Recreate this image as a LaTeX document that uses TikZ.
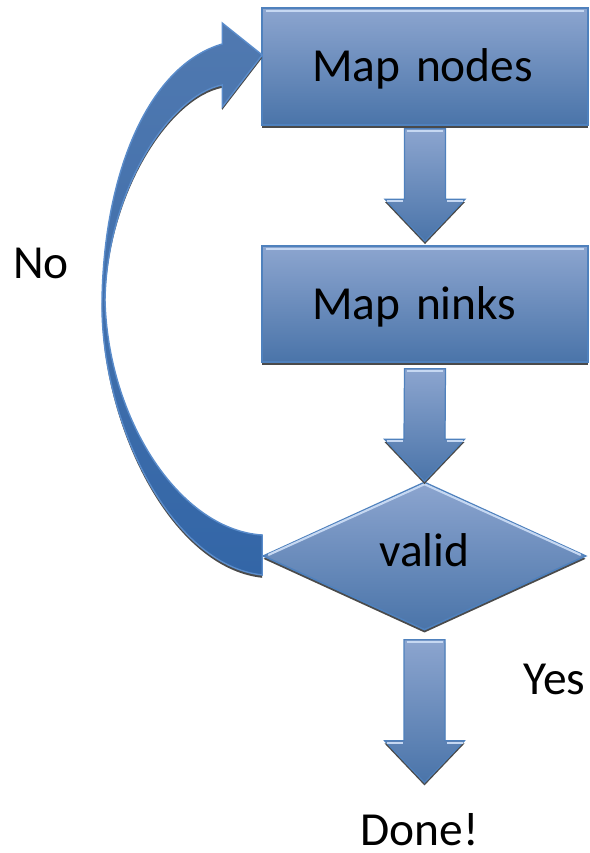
\documentclass[tikz,border=0pt]{standalone}
\usepackage{fontspec}
\setmainfont{Carlito}
\usetikzlibrary{shapes.geometric,shadows,calc}

\definecolor{boxtop}{HTML}{8CA5CF}
\definecolor{boxbot}{HTML}{4A74A9}
\definecolor{boxedge}{HTML}{4F81BD}
\definecolor{boxshine}{HTML}{C6D8F2}
\definecolor{looptop}{HTML}{5079B0}
\definecolor{loopbot}{HTML}{3366A7}
\definecolor{loopedge}{HTML}{5A8CCB}
\definecolor{shadowgray}{HTML}{4A4A4A}

\tikzset{
  solid shadow/.style={drop shadow={shadow xshift=0pt, shadow yshift=-1.6pt,
      fill=shadowgray, opacity=1}},
  bigtext/.style={font=\fontsize{27}{31}\selectfont},
  procbox/.style={rectangle, draw=boxedge, line width=0.9pt,
    top color=boxtop, bottom color=boxbot, solid shadow,
    minimum width=6.52cm, minimum height=2.34cm, inner sep=0pt, bigtext,
    text width=4.52cm, align=left, text height=17.6pt, text depth=0pt,
    path picture={\draw[boxshine, line width=1.2pt]
      ([shift={(2pt,-1.6pt)}]path picture bounding box.north west) --
      ([shift={(-2pt,-1.6pt)}]path picture bounding box.north east);}},
  decision/.style={diamond, draw=boxedge, line width=0.9pt,
    top color=boxtop, bottom color=boxbot, solid shadow,
    minimum width=6.46cm, minimum height=2.96cm, inner sep=0pt, bigtext,
    text height=12.5pt, text depth=0pt},
  label text/.style={bigtext, inner sep=0pt, anchor=base west},
  blockarrow/.style={draw=boxedge, line width=0.7pt, top color=boxtop,
    bottom color=boxbot, solid shadow},
  shine/.style={boxshine, line width=1.2pt},
  looparrow/.style={draw=loopedge, line width=0.8pt, top color=looptop,
    bottom color=loopbot, solid shadow},
}

% straight block arrow pointing down: #1 top of shaft, #2 tip
\newcommand\downblock[2]{%
  \path[blockarrow] ($(#1)+(-20.5,0)$) -- ($(#1)+(20.5,0)$)
    -- ($(#2)+(20.5,-42)$) -- ($(#2)+(40,-42)$) -- (#2)
    -- ($(#2)+(-40,-42)$) -- ($(#2)+(-20.5,-42)$) -- cycle;
  \draw[shine] ($(#1)+(-18,2.5)$) -- ($(#1)+(18,2.5)$);
  \draw[shine] ($(#2)+(-38,-40)$) -- ($(#2)+(-22,-40)$);
  \draw[shine] ($(#2)+(22,-40)$) -- ($(#2)+(38,-40)$);
}

\begin{document}
\begin{tikzpicture}[x=0.02cm, y=-0.02cm]
  \useasboundingbox (0,0) rectangle (590,853);

  % process steps
  \node[procbox] (map)  at (425,66.5) {Map nodes};
  \node[procbox, minimum height=2.32cm] (link) at (425,304) {Map ninks};
  \node[decision] (dec) at (424.5,556) {valid};
  \draw[shine] ($(dec.west)+(6,-1)$) -- ($(dec.north)+(0,3)$) -- ($(dec.east)+(-6,-1)$);

  % outcome labels
  \node[label text] (done) at (360,845) {Done!};
  \node[label text] (yes)  at (523,694) {Yes};
  \node[label text] (no)   at (13,278)  {No};

  % straight flow arrows
  \coordinate (a1s) at ($(map.south)+(0,3)$);
  \coordinate (a1e) at ($(link.north)+(0,-4)$);
  \coordinate (a2s) at ($(link.south)+(0,6)$);
  \coordinate (a2e) at (dec.north);
  \coordinate (a3s) at ($(dec.south)+(0,9)$);
  \coordinate (a3e) at ($(dec.south |- done.north)+(0,-30)$);
  \downblock{a1s}{a1e}
  \downblock{a2s}{a2e}
  \downblock{a3s}{a3e}

  % curved "No" arrow from the decision back to the first step
  \path[looparrow]
    ($(dec.west)+(0,19)$)
      .. controls (170,565) and (100,420) .. (102,300)
      .. controls (104,170) and (150,65) .. ($(map.west)+(-39,-22.5)$)
    -- ($(map.west)+(-39,-43.5)$)
    -- ($(map.west)+(1,-11.5)$)
    -- ($(map.west)+(-39,40.5)$)
    -- ($(map.west)+(-39,18.5)$)
      .. controls (170,95) and (107,190) .. (105,300)
      .. controls (108,420) and (180,530) .. ($(dec.west)+(0,-21)$)
    -- cycle;
\end{tikzpicture}
\end{document}
